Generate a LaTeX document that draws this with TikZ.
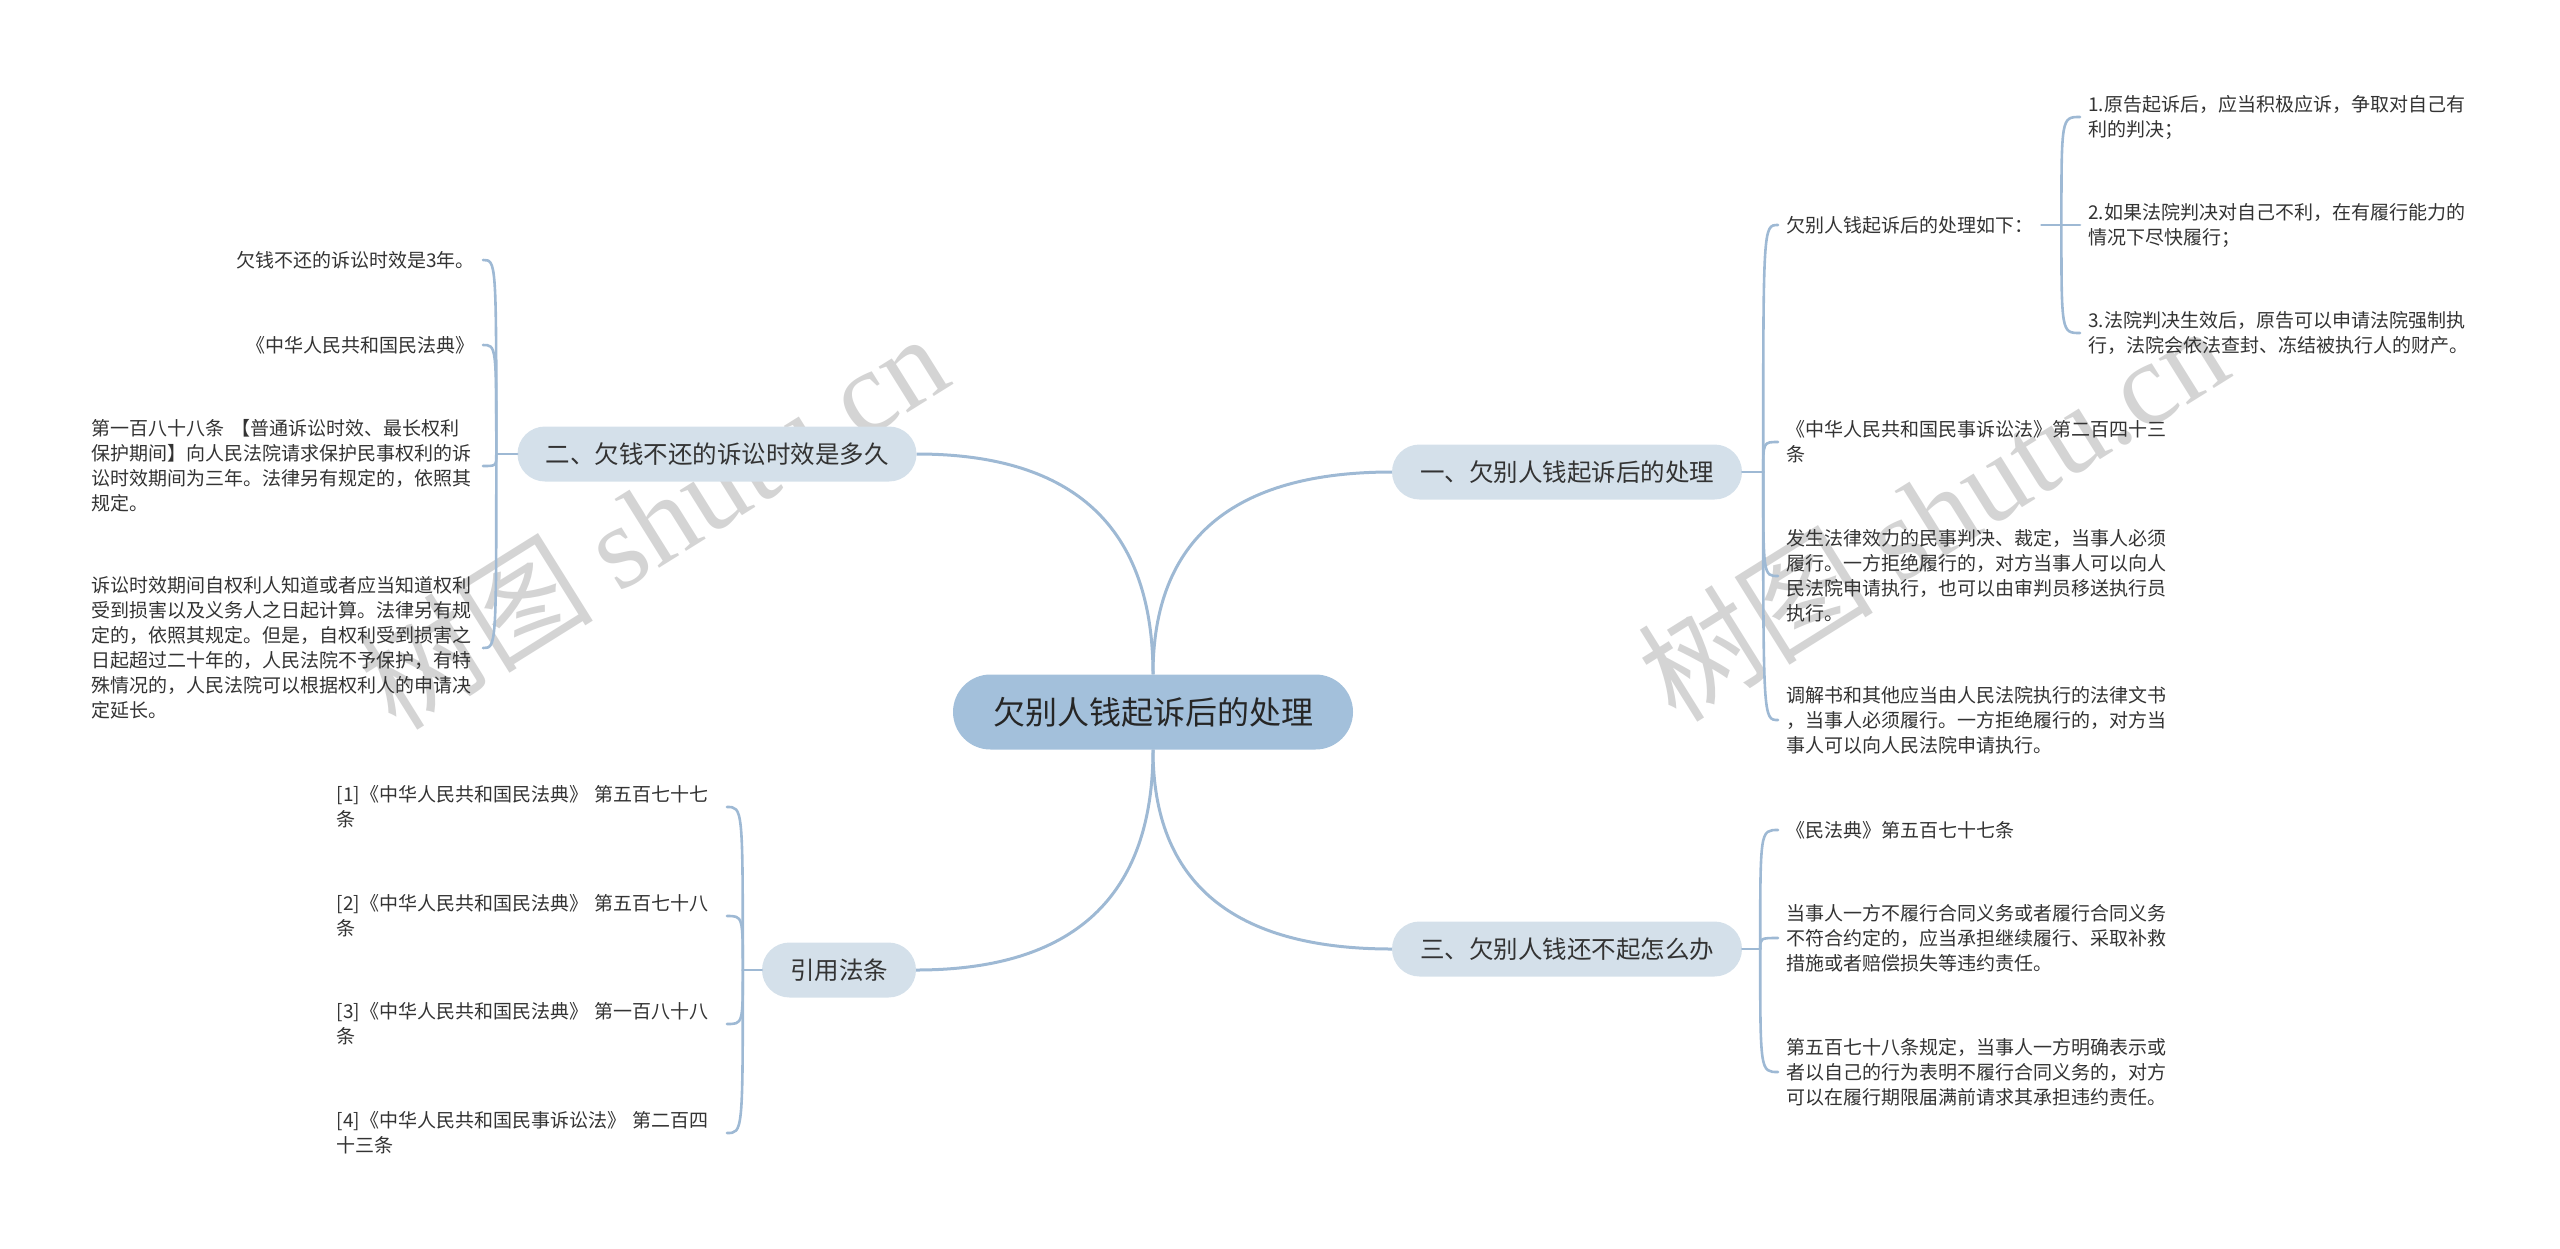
\documentclass[tikz,border=0pt]{standalone}
\usepackage{fontspec}
\setmainfont{Noto Sans CJK SC}
\newfontfamily\markfont{Liberation Serif}
\usetikzlibrary{calc}
\definecolor{rootblue}{RGB}{163,192,219}
\definecolor{branchblue}{RGB}{212,224,234}
\definecolor{linkblue}{RGB}{158,185,212}
\definecolor{inkgray}{RGB}{51,51,51}
\definecolor{markgray}{RGB}{212,212,212}
\tikzset{
  rootnode/.style={fill=rootblue, rounded corners=37.5pt, minimum height=75pt, inner xsep=40pt, text=black!85, font=\fontsize{32}{38}\selectfont},
  branch/.style={fill=branchblue, rounded corners=27.5pt, minimum height=55pt, inner xsep=28pt, text=inkgray, font=\fontsize{24.5}{30}\selectfont},
  leaf/.style={inner xsep=8pt, inner ysep=2pt, align=left, text=inkgray, font=\fontsize{19}{25}\selectfont},
  leafR/.style={leaf, anchor=west},
  leafL/.style={leaf, anchor=east},
  link/.style={draw=linkblue, line width=3pt},
  twig/.style={draw=linkblue, line width=2.6pt, line cap=round},
  sweep/.style={to path={.. controls ($(\tikztostart)!2/3!(\tikztostart |- \tikztotarget)$) and ($(\tikztotarget)!2/3!(\tikztostart |- \tikztotarget)$) .. (\tikztotarget)}},
  hook/.style={to path={.. controls (\tikztostart |- \tikztotarget) .. (\tikztotarget)}},
  watermark/.style={text=markgray, rotate=32, font=\fontsize{118}{118}\selectfont},
}
\begin{document}
\begin{tikzpicture}[x=1pt, y=-1pt]
  \useasboundingbox (0,0) rectangle (2560,1248);
  % watermarks
  \node[watermark] (markL) at (652,520) {树图 {\markfont shutu.cn}};
  \node[watermark] (markR) at (1932,512) {树图 {\markfont shutu.cn}};

  % centre and main topics
  \node[rootnode] (root) at (1153,712) {欠别人钱起诉后的处理};
  \node[branch] (b1) at (1567,472) {一、欠别人钱起诉后的处理};
  \node[branch] (b2) at (717,454) {二、欠钱不还的诉讼时效是多久};
  \node[branch] (b3) at (1567,949) {三、欠别人钱还不起怎么办};
  \node[branch] (b4) at (839,970) {引用法条};

  \draw[link] (root.north) to[sweep] (b1.west);
  \draw[link] (root.north) to[sweep] (b2.east);
  \draw[link] (root.south) to[sweep] (b3.west);
  \draw[link] (root.south) to[sweep] (b4.east);

  % topic one
  \node[leafR] (c11) at (1778,225) {欠别人钱起诉后的处理如下：};
  \node[leafR] (c111) at (2080,117) {1.原告起诉后，应当积极应诉，争取对自己有\\利的判决；};
  \node[leafR] (c112) at (2080,225) {2.如果法院判决对自己不利，在有履行能力的\\情况下尽快履行；};
  \node[leafR] (c113) at (2080,333) {3.法院判决生效后，原告可以申请法院强制执\\行，法院会依法查封、冻结被执行人的财产。};
  \node[leafR] (c12) at (1778,442) {《中华人民共和国民事诉讼法》第二百四十三\\条};
  \node[leafR] (c13) at (1778,576) {发生法律效力的民事判决、裁定，当事人必须\\履行。一方拒绝履行的，对方当事人可以向人\\民法院申请执行，也可以由审判员移送执行员\\执行。};
  \node[leafR] (c14) at (1778,720) {调解书和其他应当由人民法院执行的法律文书\\，当事人必须履行。一方拒绝履行的，对方当\\事人可以向人民法院申请执行。};

  \coordinate (s1) at ([xshift=21pt]b1.east);
  \draw[twig] (b1.east) -- (s1);
  \foreach \c in {c11,c12,c13,c14} \draw[twig] (s1) to[hook] (\c.west);
  \coordinate (s5) at ([xshift=20pt]c11.east);
  \draw[twig] (c11.east) -- (s5);
  \foreach \c in {c111,c112,c113} \draw[twig] (s5) to[hook] (\c.west);

  % topic two
  \node[leafL] (c21) at (483,260) {欠钱不还的诉讼时效是3年。};
  \node[leafL] (c22) at (483,345) {《中华人民共和国民法典》};
  \node[leafL, text width=383pt] (c23) at (483,466) {第一百八十八条 【普通诉讼时效、最长权利\\保护期间】向人民法院请求保护民事权利的诉\\讼时效期间为三年。法律另有规定的，依照其\\规定。};
  \node[leafL, text width=383pt] (c24) at (483,648) {诉讼时效期间自权利人知道或者应当知道权利\\受到损害以及义务人之日起计算。法律另有规\\定的，依照其规定。但是，自权利受到损害之\\日起超过二十年的，人民法院不予保护，有特\\殊情况的，人民法院可以根据权利人的申请决\\定延长。};

  \coordinate (s2) at ([xshift=-21pt]b2.west);
  \draw[twig] (b2.west) -- (s2);
  \foreach \c in {c21,c22,c23,c24} \draw[twig] (s2) to[hook] (\c.east);

  % topic three
  \node[leafR] (c31) at (1778,830) {《民法典》第五百七十七条};
  \node[leafR] (c32) at (1778,938) {当事人一方不履行合同义务或者履行合同义务\\不符合约定的，应当承担继续履行、采取补救\\措施或者赔偿损失等违约责任。};
  \node[leafR] (c33) at (1778,1072) {第五百七十八条规定，当事人一方明确表示或\\者以自己的行为表明不履行合同义务的，对方\\可以在履行期限届满前请求其承担违约责任。};

  \coordinate (s3) at ([xshift=18pt]b3.east);
  \draw[twig] (b3.east) -- (s3);
  \foreach \c in {c31,c32,c33} \draw[twig] (s3) to[hook] (\c.west);

  % cited articles
  \node[leafL, text width=382pt] (c41) at (727,807) {[1]《中华人民共和国民法典》~第五百七十七\\条};
  \node[leafL, text width=382pt] (c42) at (727,916) {[2]《中华人民共和国民法典》~第五百七十八\\条};
  \node[leafL, text width=382pt] (c43) at (727,1024) {[3]《中华人民共和国民法典》~第一百八十八\\条};
  \node[leafL, text width=382pt] (c44) at (727,1133) {[4]《中华人民共和国民事诉讼法》~第二百四\\十三条};

  \coordinate (s4) at ([xshift=-19pt]b4.west);
  \draw[twig] (b4.west) -- (s4);
  \foreach \c in {c41,c42,c43,c44} \draw[twig] (s4) to[hook] (\c.east);
\end{tikzpicture}
\end{document}
